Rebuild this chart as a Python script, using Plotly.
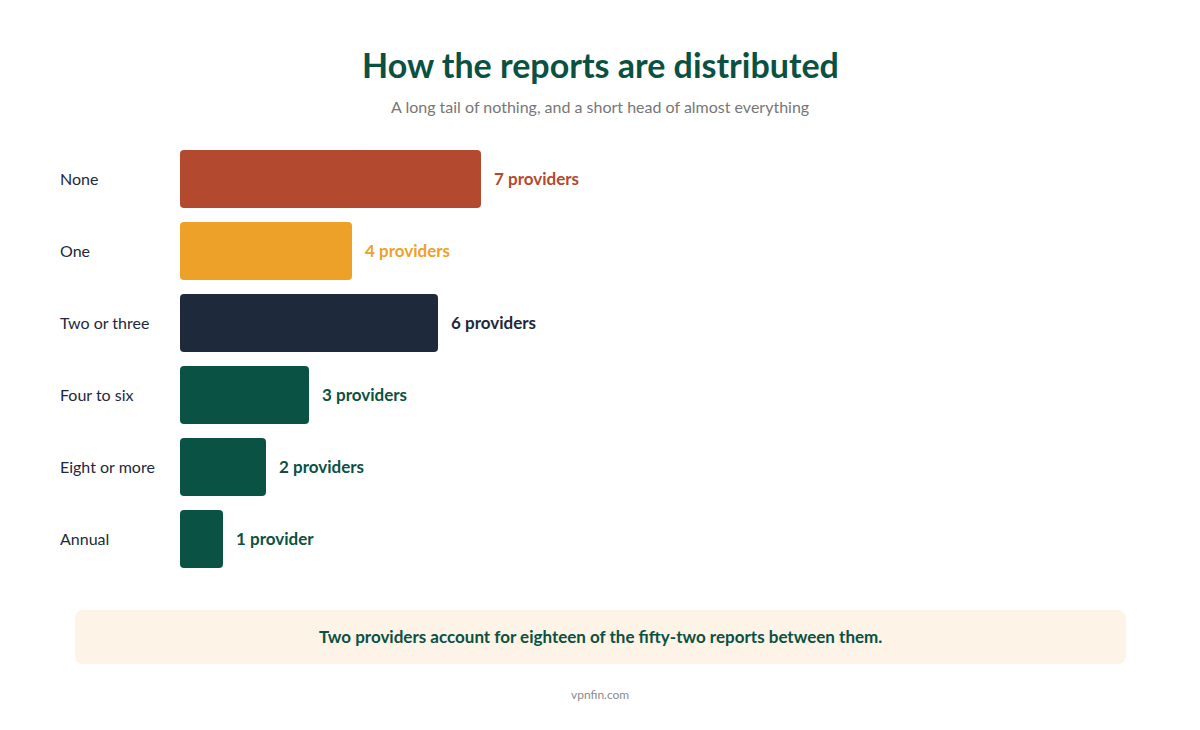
import plotly.graph_objects as go

# data
categories = ["None", "One", "Two or three", "Four to six", "Eight or more", "Annual"]
providers = [7, 4, 6, 3, 2, 1]
value_labels = ["7 providers", "4 providers", "6 providers", "3 providers", "2 providers", "1 provider"]
bar_colors = ["#B34A30", "#EEA129", "#1E293B", "#0A5244", "#0A5244", "#0A5244"]

title = "How the reports are distributed"
subtitle = "A long tail of nothing, and a short head of almost everything"
callout = "Two providers account for eighteen of the fifty-two reports between them."
footer = "vpnfin.com"

W, H = 1200, 730
OFF = 8  # page body margin
ML, MR, MT, MB = 180 - OFF, 160 + OFF, 143 - OFF, 155 + OFF
PW = W - ML - MR
PH = H - MT - MB
FONT = "Lato, 'Noto Sans', sans-serif"
GREEN = "#0B5142"


def px_x(x):
    return (x - OFF - ML) / PW


def px_y(y):
    return (H - MB - (y - OFF)) / PH


def rounded_box(x0, y0, x1, y1, r):
    # path in paper coords, corners given in pixels
    rx, ry = r / PW, r / PH
    a, b = px_x(x0), px_x(x1)
    top, bot = px_y(y0), px_y(y1)
    return (f"M {a + rx} {top} L {b - rx} {top} Q {b} {top} {b} {top - ry} "
            f"L {b} {bot + ry} Q {b} {bot} {b - rx} {bot} "
            f"L {a + rx} {bot} Q {a} {bot} {a} {bot + ry} "
            f"L {a} {top - ry} Q {a} {top} {a + rx} {top} Z")


# two overlapping halves so both ends of each bar get rounded corners
fig = go.Figure()
fig.add_trace(go.Bar(
    x=[v * 0.6 for v in providers],
    base=[v * 0.4 for v in providers],
    y=categories,
    orientation="h",
    marker=dict(color=bar_colors, line=dict(width=0)),
    hoverinfo="skip",
))
fig.add_trace(go.Bar(
    x=[-v * 0.6 for v in providers],
    base=[v * 0.6 for v in providers],
    y=categories,
    orientation="h",
    marker=dict(color=bar_colors, line=dict(width=0)),
    hoverinfo="skip",
))

annotations = []
for cat, val, lab, col in zip(categories, providers, value_labels, bar_colors):
    annotations.append(dict(
        x=px_x(58), xref="paper", y=cat, yref="y", text=cat,
        xanchor="left", showarrow=False, yshift=1,
        font=dict(family=FONT, size=16, color="#1E293B"),
    ))
    annotations.append(dict(
        x=val, y=cat, text=f"<b>{lab}</b>", xanchor="left", xshift=11,
        showarrow=False, yshift=1,
        font=dict(family=FONT, size=17, color=col),
    ))

annotations += [
    dict(x=px_x(600), xref="paper", y=px_y(65), yref="paper", text=f"<b>{title}</b>",
         showarrow=False, xanchor="center", yanchor="middle",
         font=dict(family=FONT, size=34, color=GREEN)),
    dict(x=px_x(600), xref="paper", y=px_y(106), yref="paper", text=subtitle,
         showarrow=False, xanchor="center", yanchor="middle",
         font=dict(family=FONT, size=16, color="#777777")),
    dict(x=px_x(600), xref="paper", y=px_y(636), yref="paper", text=f"<b>{callout}</b>",
         showarrow=False, xanchor="center", yanchor="middle",
         font=dict(family=FONT, size=17, color=GREEN)),
    dict(x=px_x(600), xref="paper", y=px_y(694), yref="paper", text=footer,
         showarrow=False, xanchor="center", yanchor="middle",
         font=dict(family=FONT, size=12, color="#8A8A8A")),
]

fig.update_layout(
    width=W, height=H,
    margin=dict(l=ML, r=MR, t=MT, b=MB),
    paper_bgcolor="white", plot_bgcolor="white",
    showlegend=False,
    barmode="overlay",
    bargap=14 / 72,
    barcornerradius=4,
    font=dict(family=FONT),
    xaxis=dict(range=[0, PW / 43], visible=False, fixedrange=True),
    yaxis=dict(autorange="reversed", showticklabels=False, showgrid=False,
               zeroline=False, showline=False, ticks="", fixedrange=True),
    annotations=annotations,
    shapes=[dict(type="path", xref="paper", yref="paper",
                 path=rounded_box(75, 610, 1126, 664, 9),
                 fillcolor="#FDF3E7", line=dict(width=0), layer="below")],
)

fig.write_html("out.html", config={"displayModeBar": False})
